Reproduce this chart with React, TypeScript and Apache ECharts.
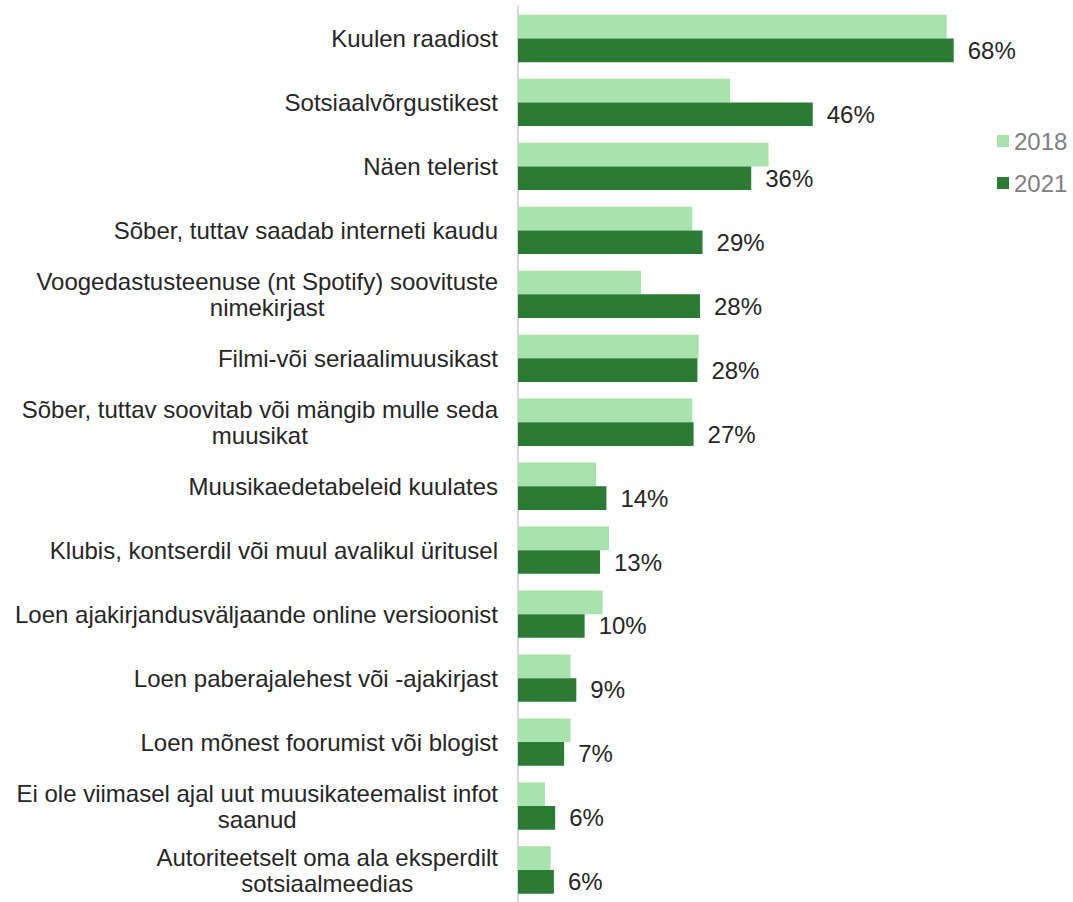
import React, { useEffect, useRef } from "react";
import * as echarts from "echarts";

const categories = [
  "Kuulen raadiost",
  "Sotsiaalvõrgustikest",
  "Näen telerist",
  "Sõber, tuttav saadab interneti kaudu",
  "Voogedastusteenuse (nt Spotify) soovituste\nnimekirjast",
  "Filmi-või seriaalimuusikast",
  "Sõber, tuttav soovitab või mängib mulle seda\nmuusikat",
  "Muusikaedetabeleid kuulates",
  "Klubis, kontserdil või muul avalikul üritusel",
  "Loen ajakirjandusväljaande online versioonist",
  "Loen paberajalehest või -ajakirjast",
  "Loen mõnest foorumist või blogist",
  "Ei ole viimasel ajal uut muusikateemalist infot\nsaanud",
  "Autoriteetselt oma ala eksperdilt\nsotsiaalmeedias",
];

const values2018 = [66.9, 33.1, 39.1, 27.2, 19.2, 28.2, 27.2, 12.2, 14.2, 13.2, 8.2, 8.2, 4.2, 5.1];
const values2021 = [68.0, 46.0, 36.4, 28.8, 28.4, 28.0, 27.4, 13.8, 12.8, 10.4, 9.1, 7.2, 5.8, 5.6];

const seriesNames = ["2018", "2021"];

const FONT = "'Liberation Sans', Arial, sans-serif";

export default function App() {
  const ref = useRef<HTMLDivElement>(null);

  useEffect(() => {
    if (!ref.current) return;
    const chart = echarts.init(ref.current, null, { renderer: "svg" });
    chart.setOption({
      animation: false,
      textStyle: { fontFamily: FONT },
      grid: { left: 518, right: 42.4, top: 6.5, height: 901.3, containLabel: false },
      legend: {
        data: seriesNames,
        orient: "vertical",
        left: 992,
        top: 124,
        icon: "rect",
        itemWidth: 12,
        itemHeight: 12,
        itemGap: 18,
        textStyle: { color: "#7f7f7f", fontSize: 24, fontFamily: FONT },
      },
      xAxis: {
        type: "value",
        min: 0,
        max: 80,
        show: false,
        splitLine: { show: false },
      },
      yAxis: {
        type: "category",
        data: categories,
        inverse: true,
        axisLine: { show: true, lineStyle: { color: "#d9d9d9", width: 2 } },
        axisTick: { show: false },
        axisLabel: {
          margin: 20,
          align: "right",
          formatter: (v: string) =>
            v
              .split("\n")
              .map((l) => `{c|${l}}`)
              .join("\n"),
          rich: {
            c: {
              align: "center",
              fontSize: 24,
              lineHeight: 26,
              color: "#262626",
              fontFamily: FONT,
            },
          },
        },
      },
      series: [
        {
          name: seriesNames[0],
          type: "bar",
          data: values2018,
          barGap: "0%",
          barCategoryGap: "26%",
          itemStyle: { color: "#a8e2ad" },
        },
        {
          name: seriesNames[1],
          type: "bar",
          data: values2021,
          barGap: "0%",
          barCategoryGap: "26%",
          itemStyle: { color: "#2b7b35" },
          label: {
            show: true,
            position: "right",
            distance: 14,
            color: "#262626",
            fontSize: 24,
            fontFamily: FONT,
            formatter: (p: any) => `${Math.round(p.value)}%`,
          },
        },
      ],
    });
    return () => chart.dispose();
  }, []);

  return (
    <div
      ref={ref}
      style={{ position: "absolute", left: 0, top: 0, width: 1073, height: 902 }}
    />
  );
}
